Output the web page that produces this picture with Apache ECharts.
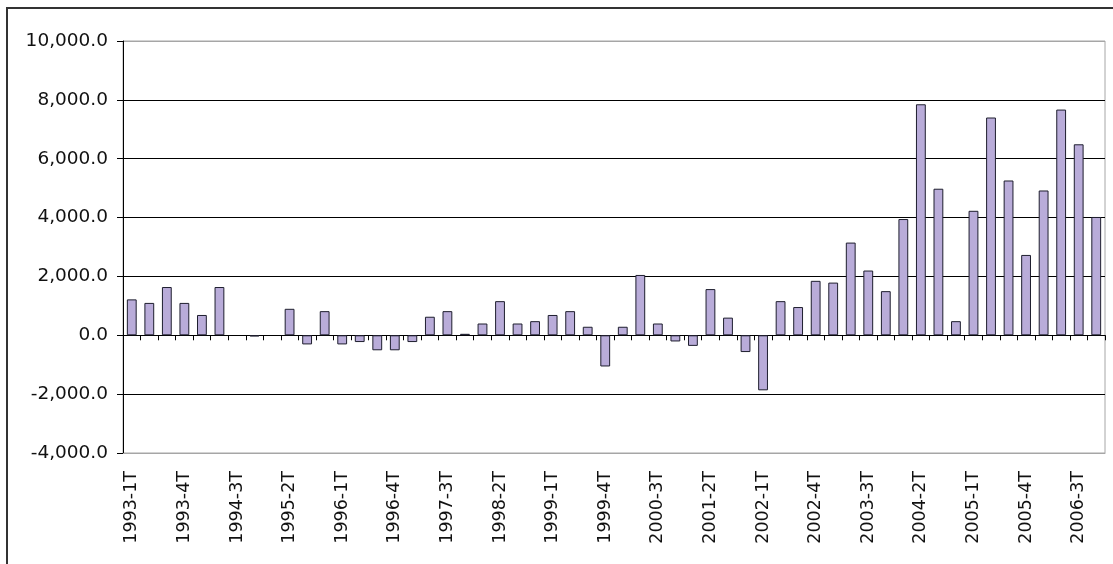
<!DOCTYPE html>
<html>
<head>
<meta charset="utf-8">
<script src="https://cdn.jsdelivr.net/npm/echarts@6/dist/echarts.min.js"></script>
<style>
  html, body { margin: 0; padding: 0; background: #fff; }
  #chart { width: 1113px; height: 564px; }
</style>
</head>
<body>
<div id="chart"></div>
<script>
// 年份和季度，拼成横轴分类 (1993-1T ... 2006-4T)
var years = [1993, 1994, 1995, 1996, 1997, 1998, 1999, 2000, 2001, 2002, 2003, 2004, 2005, 2006];
var quarters = ['1T', '2T', '3T', '4T'];
var categories = [];
for (var i = 0; i < years.length; i++) {
    for (var j = 0; j < quarters.length; j++) {
        categories.push(years[i] + '-' + quarters[j]);
    }
}

// 每季度的数值
var values = [
    1220, 1100, 1640, 1100,
    690, 1640, null, -40,
    null, 900, -310, 820,
    -310, -230, -510, -510,
    -230, 630, 820, 50,
    400, 1160, 400, 480,
    690, 820, 290, -1060,
    290, 2050, 400, -210,
    -360, 1570, 600, -570,
    -1870, 1160, 960, 1850,
    1790, 3150, 2200, 1500,
    3950, 7850, 4980, 480,
    4230, 7400, 5260, 2730,
    4920, 7670, 6490, 4020
];

// 纵轴刻度
var yTicks = [-4000, -2000, 0, 2000, 4000, 6000, 8000, 10000];

var myChart = echarts.init(document.getElementById('chart'));

var fontFamily = 'DejaVu Sans';

var option = {
    backgroundColor: '#fff',
    animation: false,
    graphic: [{
        type: 'rect',
        z: -10,
        shape: { x: 7, y: 8, width: 1300, height: 700 },
        style: { fill: 'none', stroke: '#333', lineWidth: 2 }
    }],
    grid: {
        left: 123,
        right: 8,
        top: 41,
        bottom: 111,
        show: true,
        borderColor: '#a6a6a6',
        borderWidth: 1
    },
    xAxis: [
        {
            // 零线和刻度
            type: 'category',
            data: categories,
            boundaryGap: true,
            axisLine: { onZero: true, lineStyle: { color: '#000', width: 1 } },
            axisTick: { show: true, interval: 0, length: 5, lineStyle: { color: '#000' } },
            axisLabel: { show: false },
            splitLine: { show: false }
        },
        {
            // 底部的文字标签
            type: 'category',
            data: categories,
            position: 'bottom',
            boundaryGap: true,
            axisLine: { onZero: false, lineStyle: { color: '#a6a6a6' } },
            axisTick: { show: false },
            axisLabel: {
                interval: 2,
                rotate: 90,
                margin: 18,
                color: '#111',
                fontFamily: fontFamily,
                fontSize: 17.5
            },
            splitLine: { show: false }
        }
    ],
    yAxis: {
        type: 'value',
        min: yTicks[0],
        max: yTicks[yTicks.length - 1],
        interval: 2000,
        axisLine: { show: true, lineStyle: { color: '#000' } },
        axisTick: { show: true, length: 6, lineStyle: { color: '#000' } },
        axisLabel: {
            margin: 15,
            color: '#111',
            fontFamily: fontFamily,
            fontSize: 18.5,
            formatter: function (v) {
                return echarts.format.addCommas(v.toFixed(1));
            }
        },
        splitLine: {
            show: true,
            lineStyle: {
                color: ['#a6a6a6', '#000', '#000', '#000', '#000', '#000', '#000', '#a6a6a6'],
                width: 1
            }
        }
    },
    series: [{
        type: 'bar',
        xAxisIndex: 0,
        data: values,
        barWidth: '56%',
        itemStyle: {
            color: '#b9acd9',
            borderColor: '#1e1e2e',
            borderWidth: 1
        }
    }]
};

myChart.setOption(option);
</script>
</body>
</html>
